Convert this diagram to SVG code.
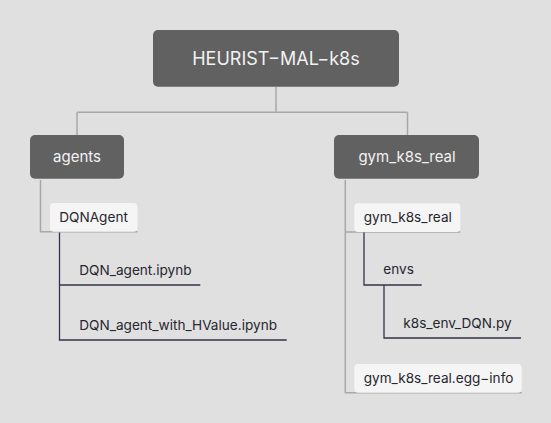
<svg xmlns="http://www.w3.org/2000/svg" width="551" height="423" viewBox="0 0 551 423">
<style>
text{font-family:Inter,"Liberation Sans",Arial,sans-serif}
.dark rect{fill:#616161}
.dark text{fill:#f2f2f2;text-anchor:middle}
.light rect{fill:#f5f5f5}
.light text,.leaf text{fill:#26262e;font-size:13.6px}
.g{stroke:#a8a8a8;stroke-width:1.5;fill:none}
.d{stroke:#33334a;stroke-width:1.3;fill:none}
</style>
<rect width="551" height="423" fill="#e0e0e0"/>
<g id="connectors">
<path class="g" d="M276,87V112.3M77,112.3H407.5M77,112.3V135M407.5,112.3V135"/>
<path class="g" d="M40.5,180V231.7H137.5"/>
<path class="g" d="M345.3,180V392.7H521.7M345.3,232H460.3"/>
<path class="d" d="M59.5,232.5V340H286.7M59.5,285H200.3"/>
<path class="d" d="M364,232.5V285H421.7"/>
<path class="d" d="M384,285V338H521"/>
</g>
<g id="root" class="dark"><rect x="153" y="30" width="246" height="56.7" rx="5"/><text x="276" y="65" font-size="18">HEURIST−MAL−k8s</text></g>
<g id="agents" class="dark"><rect x="30" y="135" width="94" height="43.7" rx="5"/><text x="77" y="162" font-size="15">agents</text></g>
<g id="gym_k8s_real" class="dark"><rect x="334" y="135" width="145" height="43.7" rx="5"/><text x="407" y="162" font-size="15">gym_k8s_real</text></g>
<g id="DQNAgent" class="light"><rect x="50" y="203" width="87.5" height="28.7" rx="4"/><text x="59.3" y="222.3">DQNAgent</text></g>
<g id="DQN_agent" class="leaf"><text x="79.3" y="275">DQN_agent.ipynb</text></g>
<g id="DQN_agent_with_HValue" class="leaf"><text x="79.3" y="330">DQN_agent_with_HValue.ipynb</text></g>
<g id="gym_k8s_real_pkg" class="light"><rect x="354.3" y="203.3" width="106" height="28.7" rx="4"/><text x="363.7" y="221.7">gym_k8s_real</text></g>
<g id="envs" class="leaf"><text x="383.3" y="274.3">envs</text></g>
<g id="k8s_env_DQN" class="leaf"><text x="403.3" y="327.7">k8s_env_DQN.py</text></g>
<g id="egg_info" class="light"><rect x="354.3" y="364" width="167.4" height="28.7" rx="4"/><text x="363.7" y="382.7">gym_k8s_real.egg−info</text></g>
</svg>
